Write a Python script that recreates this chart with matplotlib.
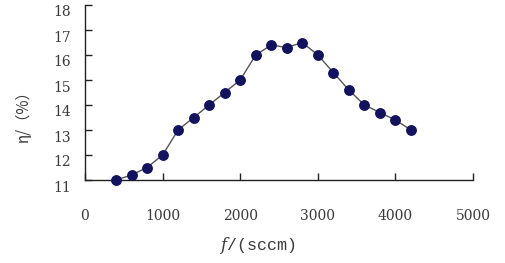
import matplotlib
matplotlib.use("Agg")
import matplotlib.pyplot as plt
import matplotlib.transforms as mtransforms

flow = [400, 600, 800, 1000, 1200, 1400, 1600, 1800, 2000, 2200,
        2400, 2600, 2800, 3000, 3200, 3400, 3600, 3800, 4000, 4200]
eta = [11.0, 11.2, 11.5, 12.0, 13.0, 13.5, 14.0, 14.5, 15.0, 16.0,
       16.4, 16.3, 16.5, 16.0, 15.3, 14.6, 14.0, 13.7, 13.4, 13.0]
x_ticks = [0, 1000, 2000, 3000, 4000, 5000]
y_ticks = [11, 12, 13, 14, 15, 16, 17, 18]

plt.rcParams["mathtext.fontset"] = "dejavuserif"

fig = plt.figure(figsize=(5.06, 2.63), dpi=100)
ax = fig.add_axes([85/506, 1 - 180/263, (473 - 85)/506, (180 - 5)/263])

ax.plot(flow, eta, color="#555555", linewidth=1.0, marker="o",
        markersize=6.8, markerfacecolor="#12125e", markeredgecolor="#12125e",
        zorder=3, clip_on=False)

ax.set_xlim(0, 5000)
ax.set_ylim(11, 18)
ax.set_xticks(x_ticks)
ax.set_yticks(y_ticks)
for s in ("top", "right"):
    ax.spines[s].set_visible(False)
for s in ("left", "bottom"):
    ax.spines[s].set_color("#222222")
    ax.spines[s].set_linewidth(1.0)

ax.tick_params(axis="x", direction="in", length=5, width=1, color="#222222",
               pad=21, labelcolor="#3a3a3a")
ax.tick_params(axis="y", direction="in", length=5, width=1, color="#222222",
               pad=10, labelcolor="#3a3a3a")
for lab in ax.get_xticklabels() + ax.get_yticklabels():
    lab.set_family("DejaVu Serif")
    lab.set_fontsize(10)
shift = mtransforms.ScaledTranslation(0, -6/100, fig.dpi_scale_trans)
for lab in ax.get_yticklabels():
    lab.set_transform(lab.get_transform() + shift)

fig.text(23/506, 1 - 112/263, "η/（%）", rotation=90, ha="center", va="center",
         fontsize=11, color="#3a3a3a", family=["Noto Sans CJK SC", "DejaVu Sans"])
fig.text(257/506, 1 - 246/263, "$f$/(sccm)", ha="center", va="center",
         fontsize=12, color="#3a3a3a", family="Liberation Mono")

fig.savefig("out.png", dpi=100)
